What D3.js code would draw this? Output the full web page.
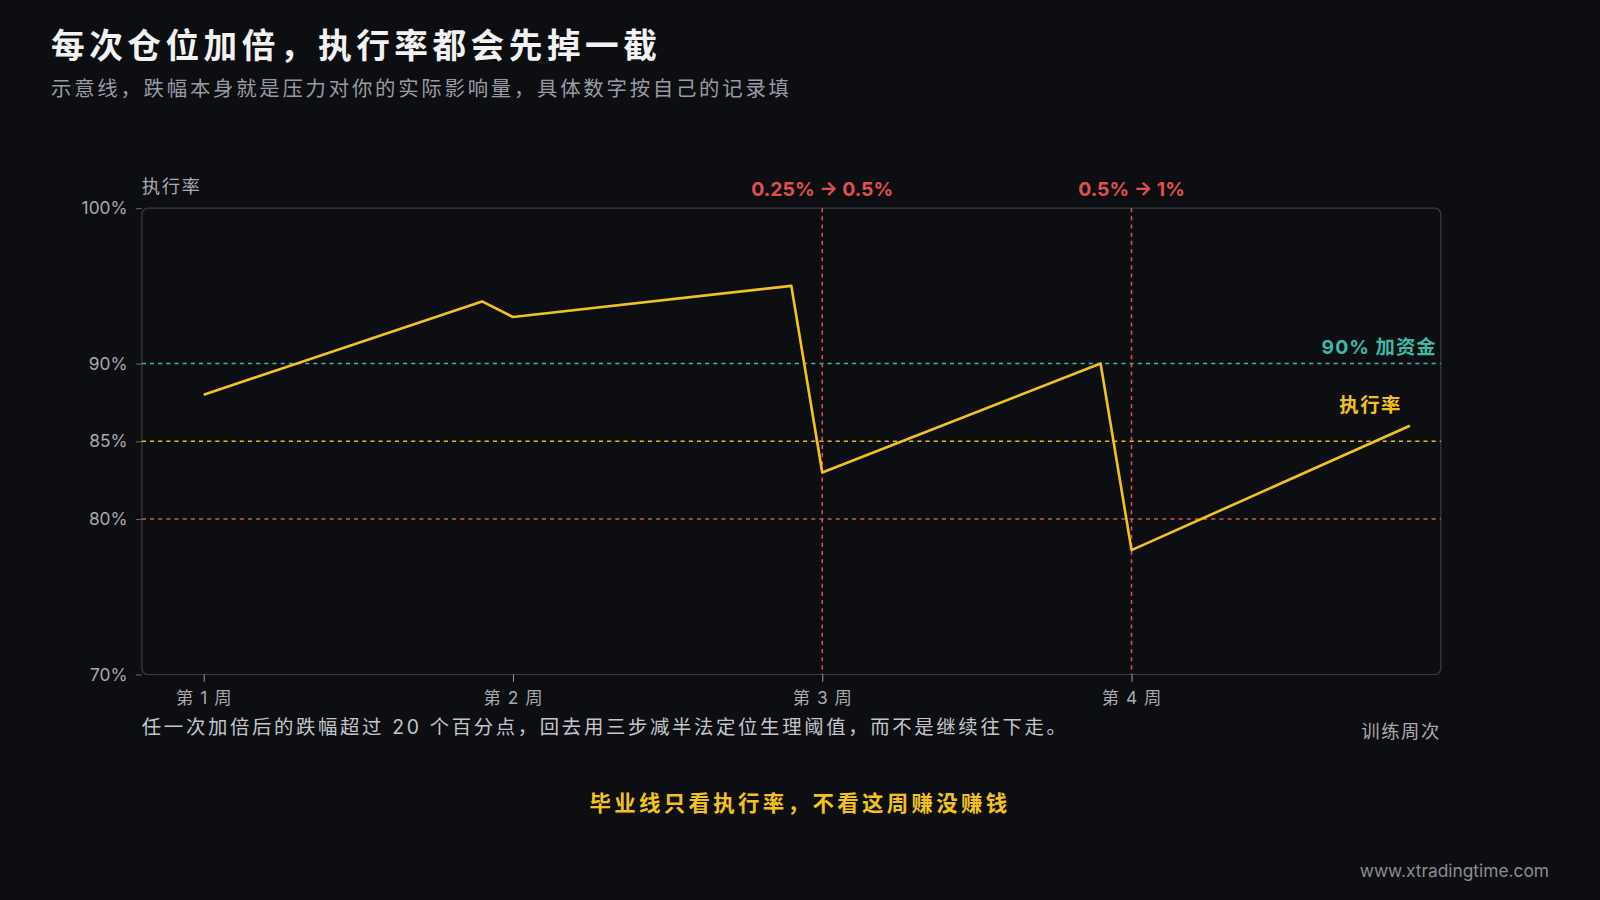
<!DOCTYPE html>
<html><head><meta charset="utf-8">
<script src="https://cdn.jsdelivr.net/npm/d3@7"></script>
<style>body{margin:0;background:#0d0e12;}svg{display:block;}text{font-family:Inter,"Noto Sans CJK SC","Noto Sans",sans-serif;}</style>
</head><body><svg id="c" width="1600" height="900" viewBox="0 0 1568 882"></svg>
<script>
const weeks = [1, 1.9, 2, 2.9, 3, 3.9, 4, 4.9];
const rates = [88, 94, 93, 95, 83, 90, 78, 86];
const weekTicks = [1, 2, 3, 4];
const weekLabels = ["第 1 周", "第 2 周", "第 3 周", "第 4 周"];
const yTicks = [70, 80, 85, 90, 100];
const refLines = [{v:90,c:"#3fb8a6",label:"90% 加资金"},{v:85,c:"#e8b923"},{v:80,c:"#e0504f"}];
const events = [{w:3,label:"0.25% → 0.5%"},{w:4,label:"0.5% → 1%"}];

const svg = d3.select("#c");
svg.append("rect").attr("width",1568).attr("height",882).attr("fill","#0d0e12");
const L=139,R=1412,T=204,B=661;
const x = d3.scaleLinear().domain([0.8,5]).range([L,R]);
const y = d3.scaleLinear().domain([70,100]).range([B,T]);

svg.append("text").attr("x",50).attr("y",57).attr("fill","#f2f2f2").attr("font-size",33).attr("font-weight",700).attr("letter-spacing",4.4).text("每次仓位加倍，执行率都会先掉一截");
svg.append("text").attr("x",50).attr("y",94).attr("fill","#9a9ca3").attr("font-size",20).attr("letter-spacing",2.7).text("示意线，跌幅本身就是压力对你的实际影响量，具体数字按自己的记录填");

svg.append("rect").attr("x",L).attr("y",T).attr("width",R-L).attr("height",B-T).attr("rx",6).attr("fill","none").attr("stroke","#3a3c42").attr("stroke-width",1.2);

const ya = svg.append("g").attr("transform",`translate(${L},0)`).call(d3.axisLeft(y).tickValues(yTicks).tickFormat(d=>d+"%").tickSize(6));
ya.select(".domain").remove();
ya.selectAll("line").attr("stroke","#6a6c72");
ya.selectAll("text").attr("fill","#a8aab0").attr("font-size",17).attr("x",-14);

const xa = svg.append("g").attr("transform",`translate(0,${B})`).call(d3.axisBottom(x).tickValues(weekTicks).tickFormat((d,i)=>weekLabels[i]).tickSize(7));
xa.select(".domain").remove();
xa.selectAll("line").attr("stroke","#9a9ca3");
xa.selectAll("text").attr("fill","#a8aab0").attr("font-size",17).attr("letter-spacing",1).attr("dy","1.1em");

svg.append("text").attr("x",L).attr("y",189).attr("fill","#a8aab0").attr("font-size",18).attr("letter-spacing",1.5).text("执行率");
svg.append("text").attr("x",R).attr("y",723).attr("text-anchor","end").attr("fill","#a8aab0").attr("font-size",18).attr("letter-spacing",1.5).text("训练周次");

refLines.forEach(r=>{
  svg.append("line").attr("x1",L).attr("x2",R).attr("y1",y(r.v)).attr("y2",y(r.v)).attr("stroke",r.c).attr("stroke-width",1.5).attr("stroke-dasharray","4,4");
  if(r.label) svg.append("text").attr("x",R-4).attr("y",y(r.v)-9).attr("text-anchor","end").attr("fill",r.c).attr("font-size",19).attr("font-weight",700).attr("letter-spacing",1).text(r.label);
});
events.forEach(e=>{
  svg.append("line").attr("x1",x(e.w)).attr("x2",x(e.w)).attr("y1",T).attr("y2",B).attr("stroke","#e0504f").attr("stroke-width",1.5).attr("stroke-dasharray","4,4");
  svg.append("text").attr("x",x(e.w)).attr("y",192).attr("text-anchor","middle").attr("fill","#e0504f").attr("font-size",19).attr("font-weight",700).text(e.label);
});

const pts = weeks.map((w,i)=>[w,rates[i]]);
svg.append("path").attr("d",d3.line().x(d=>x(d[0])).y(d=>y(d[1]))(pts)).attr("fill","none").attr("stroke","#f2c21c").attr("stroke-width",2.6).attr("stroke-linejoin","round");
svg.append("text").attr("x",1374).attr("y",404).attr("text-anchor","end").attr("fill","#f2c21c").attr("font-size",19).attr("font-weight",700).attr("letter-spacing",1.5).text("执行率");

svg.append("text").attr("x",L).attr("y",719).attr("fill","#c4c6cc").attr("font-size",19).attr("letter-spacing",2.6).text("任一次加倍后的跌幅超过 20 个百分点，回去用三步减半法定位生理阈值，而不是继续往下走。");
svg.append("text").attr("x",784).attr("y",795).attr("text-anchor","middle").attr("fill","#f2c21c").attr("font-size",21).attr("font-weight",700).attr("letter-spacing",3.3).text("毕业线只看执行率，不看这周赚没赚钱");
svg.append("text").attr("x",1518).attr("y",859).attr("text-anchor","end").attr("fill","#8a8c92").attr("font-size",17).text("www.xtradingtime.com");
</script></body></html>
